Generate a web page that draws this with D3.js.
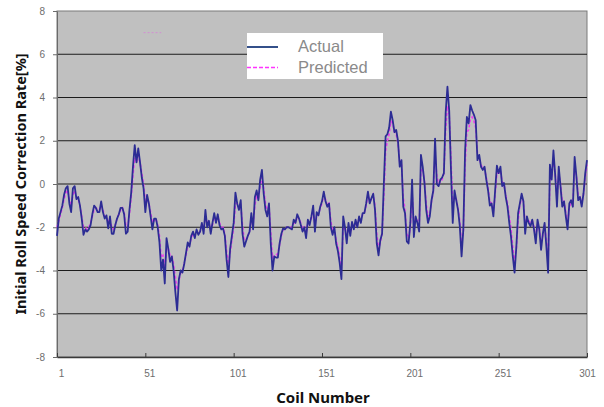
<!DOCTYPE html>
<html>
<head>
<meta charset="utf-8">
<script src="https://cdn.jsdelivr.net/npm/d3@7"></script>
<style>
  body { margin: 0; background: #fff; }
  svg { display: block; }
  .tick text { font-family: "Liberation Sans", Arial, sans-serif; font-size: 10px; fill: #6e6e6e; }
</style>
</head>
<body>
<svg id="chart"></svg>
<script>
// Values (coil 1..301)
const actual = [
  -2.4, -1.6, -1.3, -1.0, -0.5, -0.2, -0.1, -0.9, -1.3, -0.2,
  -0.1, -0.7, -0.6, -1.0, -1.6, -2.35, -2.1, -2.2, -2.1, -1.9,
  -1.4, -1.0, -1.1, -1.3, -1.3, -0.8, -1.3, -1.6, -1.45, -2.05,
  -1.5, -2.3, -2.3, -1.9, -1.6, -1.4, -1.1, -1.1, -1.4, -2.3,
  -2.2, -1.2, -0.4, 0.8, 1.8, 1.0, 1.65, 1.0, 0.3, -0.2,
  -1.3, -0.5, -0.9, -1.5, -2.1, -1.6, -1.6, -2.0, -2.7, -4.0,
  -3.5, -4.6, -2.5, -3.0, -3.6, -3.35, -4.0, -5.0, -5.85, -4.4,
  -4.0, -4.1, -3.7, -3.2, -2.7, -2.9, -2.4, -2.2, -2.5, -2.1,
  -2.35, -2.2, -1.8, -2.3, -1.2, -2.0, -1.7, -2.3, -1.8, -1.35,
  -1.8, -1.4, -1.9, -2.1, -2.05, -2.4, -3.5, -4.3, -3.0, -2.4,
  -1.8, -0.4, -0.9, -1.2, -0.75, -2.3, -2.9, -2.65, -2.4, -2.2,
  -1.35, -2.1, -0.6, -0.3, -0.75, 0.2, 0.65, -0.45, -1.2, -1.5,
  -0.9, -2.75, -4.0, -3.35, -3.4, -3.4, -2.75, -2.3, -2.05, -2.1,
  -2.0, -2.0, -2.05, -2.1, -1.65, -1.8, -1.4, -1.6, -1.9, -2.2,
  -2.0, -2.5, -1.65, -1.9, -1.5, -1.0, -2.2, -1.3, -1.45, -1.05,
  -0.8, -0.35, -0.8, -1.05, -0.9, -2.0, -2.35, -2.0, -2.75, -3.1,
  -3.65, -4.4, -1.5, -2.0, -2.75, -1.8, -2.4, -1.75, -2.1, -1.65,
  -2.0, -1.5, -1.8, -1.35, -1.35, -0.9, -0.35, -0.9, -0.65, -0.45,
  -1.2, -2.75, -3.3, -2.6, -2.3, 0.0, 2.2, 2.3, 2.6, 3.35,
  2.95, 2.4, 2.5, 2.0, 0.8, 1.1, -1.05, -1.35, -2.65, -2.75,
  -1.8, 0.2, -2.45, -1.5, -1.8, -2.2, 1.35, 0.8, 0.05, -1.2,
  -1.8, -1.5, -0.75, -0.3, 2.1, 0.0, -0.1, 0.2, 0.3, 0.5,
  3.3, 4.5, 3.4, 0.65, -1.8, -0.3, -0.75, -1.2, -1.95, -3.35,
  -2.1, 1.55, 3.1, 2.8, 3.65, 3.4, 3.2, 2.95, 1.1, 1.35,
  0.8, 0.65, 0.8, 0.2, -0.3, -1.0, -0.9, -1.5, -0.3, 0.85,
  0.5, 0.8, -0.1, 0.05, -0.6, -1.05, -1.8, -2.45, -3.35, -4.1,
  -2.9, -1.35, -0.9, -0.45, -0.8, -2.3, -1.5, -1.8, -1.95, -1.65,
  -2.1, -2.75, -1.65, -2.1, -3.05, -2.3, -1.8, -2.9, -4.1, 0.9,
  0.2, 1.55, 0.4, -1.05, 0.8, -0.1, -1.05, -0.8, -1.5, -2.1,
  -0.9, -0.75, -1.05, 1.25, 0.35, -0.75, -0.6, -1.05, -0.45, 0.5,
  1.1
];

const predicted = [
  -2.0, -1.7, -1.4, -1.1, -0.7, -0.4, -0.3, -0.7, -1.0, -0.5,
  -0.3, -0.6, -0.7, -1.0, -1.5, -2.0, -2.0, -2.1, -2.0, -1.8,
  -1.5, -1.2, -1.1, -1.2, -1.2, -1.0, -1.2, -1.5, -1.5, -1.8,
  -1.6, -2.0, -2.1, -1.9, -1.6, -1.4, -1.2, -1.1, -1.3, -1.9,
  -2.0, -1.4, -0.6, 0.4, 1.2, 1.0, 1.3, 1.0, 0.5, 0.0,
  -0.8, -0.6, -0.9, -1.3, -1.8, -1.7, -1.6, -1.9, -2.4, -3.4,
  -3.3, -3.9, -3.0, -3.0, -3.3, -3.3, -3.7, -4.3, -4.9, -4.5,
  -4.1, -4.0, -3.7, -3.3, -2.9, -2.8, -2.5, -2.3, -2.4, -2.2,
  -2.3, -2.2, -1.9, -2.1, -1.5, -1.8, -1.8, -2.1, -1.9, -1.5,
  -1.7, -1.5, -1.8, -2.0, -2.0, -2.3, -3.1, -3.7, -3.2, -2.6,
  -2.0, -0.9, -0.9, -1.1, -0.9, -1.9, -2.6, -2.6, -2.4, -2.2,
  -1.6, -1.9, -1.0, -0.5, -0.7, -0.1, 0.3, -0.2, -0.9, -1.3,
  -1.0, -2.2, -3.4, -3.3, -3.3, -3.2, -2.8, -2.4, -2.1, -2.1,
  -2.0, -2.0, -2.0, -2.0, -1.8, -1.8, -1.5, -1.6, -1.8, -2.1,
  -2.0, -2.3, -1.8, -1.8, -1.6, -1.2, -1.9, -1.5, -1.4, -1.1,
  -0.9, -0.5, -0.7, -1.0, -0.9, -1.7, -2.2, -2.1, -2.6, -2.9,
  -3.4, -3.9, -2.1, -2.0, -2.5, -2.0, -2.3, -1.9, -2.0, -1.8,
  -1.9, -1.6, -1.7, -1.4, -1.3, -1.0, -0.5, -0.8, -0.7, -0.5,
  -1.0, -2.3, -3.0, -2.7, -2.3, -0.6, 1.5, 2.0, 2.3, 2.9,
  2.8, 2.4, 2.3, 1.9, 1.0, 0.9, -0.6, -1.2, -2.3, -2.5,
  -2.0, -0.4, -1.9, -1.6, -1.7, -2.0, 0.6, 0.7, 0.1, -0.9,
  -1.5, -1.4, -0.8, -0.4, 1.4, 0.4, 0.0, 0.1, 0.2, 0.5,
  2.5, 3.6, 3.2, 1.2, -1.0, -0.6, -0.7, -1.1, -1.7, -2.8,
  -2.2, 0.8, 2.4, 2.5, 3.0, 3.1, 2.9, 2.6, 1.4, 1.2,
  0.9, 0.7, 0.7, 0.3, -0.2, -0.8, -0.9, -1.3, -0.5, 0.5,
  0.5, 0.6, 0.1, 0.0, -0.5, -0.9, -1.5, -2.1, -2.9, -3.6,
  -3.0, -1.7, -1.0, -0.6, -0.8, -1.9, -1.6, -1.7, -1.8, -1.7,
  -2.0, -2.5, -1.9, -2.0, -2.7, -2.4, -1.9, -2.6, -3.6, 0.2,
  0.3, 1.2, 0.5, -0.7, 0.5, 0.0, -0.8, -0.8, -1.3, -1.8,
  -1.1, -0.8, -0.9, 0.8, 0.4, -0.5, -0.6, -0.9, -0.5, 0.3,
  0.9
];

const xTicks = [1, 51, 101, 151, 201, 251, 301];
const yTicks = [-8, -6, -4, -2, 0, 2, 4, 6, 8];
const seriesNames = ["Actual", "Predicted"];

const margin = { top: 11, right: 17, bottom: 50, left: 57 };
const width = 604 - margin.left - margin.right;
const height = 407 - margin.top - margin.bottom;

const root = d3.select("#chart")
    .attr("width", 604)
    .attr("height", 407);

const svg = root.append("g")
    .attr("transform", `translate(${margin.left},${margin.top})`);

const xScale = d3.scaleLinear().domain([1, 301]).range([0, width]);
const yScale = d3.scaleLinear().domain([-8, 8]).range([height, 0]);

// plot area
svg.append("rect")
    .attr("width", width)
    .attr("height", height)
    .attr("fill", "#c0c0c0")
    .attr("stroke", "#7a7a7a")
    .attr("stroke-width", 1);

// horizontal gridlines
svg.selectAll(".grid")
    .data(yTicks.filter(d => d > -8 && d < 8))
    .enter().append("line")
    .attr("class", "grid")
    .attr("x1", 0)
    .attr("x2", width)
    .attr("y1", d => yScale(d))
    .attr("y2", d => yScale(d))
    .attr("stroke", "#1c1c1c")
    .attr("stroke-width", 1);

// axes
const yAxis = d3.axisLeft(yScale)
    .tickValues(yTicks)
    .tickFormat(d => String(d))
    .tickSizeInner(4)
    .tickSizeOuter(0)
    .tickPadding(8);

svg.append("g")
    .attr("id", "y-axis")
    .call(yAxis)
    .call(g => g.select(".domain").attr("stroke", "#6a6a6a"))
    .call(g => g.selectAll(".tick line").attr("stroke", "#6a6a6a"));

const xAxis = d3.axisBottom(xScale)
    .tickValues(xTicks)
    .tickFormat(d => String(d))
    .tickSizeInner(-4)
    .tickSizeOuter(0)
    .tickPadding(13);

svg.append("g")
    .attr("id", "x-axis")
    .attr("transform", `translate(0,${height})`)
    .call(xAxis)
    .call(g => g.select(".domain").attr("stroke", "#3a3a3a").attr("stroke-width", 1.5))
    .call(g => g.selectAll(".tick line").attr("stroke", "#3a3a3a"))
    .call(g => g.selectAll(".tick text").attr("dx", d => d === 301 ? 0 : 4));

// series
const line = d3.line()
    .x((d, i) => xScale(i + 1))
    .y(d => yScale(d));

svg.append("path")
    .datum(predicted)
    .attr("fill", "none")
    .attr("stroke", "#f040f0")
    .attr("stroke-width", 1.6)
    .attr("stroke-dasharray", "3,2")
    .attr("d", line);

svg.append("path")
    .datum(actual)
    .attr("fill", "none")
    .attr("stroke", "#2c2c94")
    .attr("stroke-width", 1.8)
    .attr("stroke-linejoin", "round")
    .attr("d", line);

// stray dashed mark left in the original picture
svg.append("line")
    .attr("x1", xScale(50))
    .attr("x2", xScale(60))
    .attr("y1", yScale(7))
    .attr("y2", yScale(7))
    .attr("stroke", "#e070e0")
    .attr("stroke-width", 1)
    .attr("stroke-dasharray", "2,2")
    .attr("opacity", 0.6);

// legend
const legend = root.append("g").attr("transform", "translate(247,33)");
legend.append("rect")
    .attr("width", 136)
    .attr("height", 46)
    .attr("fill", "#fff");

legend.selectAll(".key")
    .data(seriesNames)
    .enter().append("line")
    .attr("x1", 0)
    .attr("x2", 31)
    .attr("y1", (d, i) => 14 + i * 20.5)
    .attr("y2", (d, i) => 14 + i * 20.5)
    .attr("stroke", (d, i) => i === 0 ? "#34508a" : "#ff33ff")
    .attr("stroke-width", (d, i) => i === 0 ? 2 : 1.6)
    .attr("stroke-dasharray", (d, i) => i === 0 ? null : "4,2");

legend.selectAll(".label")
    .data(seriesNames)
    .enter().append("text")
    .attr("x", 51)
    .attr("y", (d, i) => 19 + i * 21)
    .attr("font-family", "Liberation Sans, Arial, sans-serif")
    .attr("font-size", 16.5)
    .attr("fill", "#8a8a8a")
    .text(d => d);

// axis titles
root.append("text")
    .attr("x", margin.left + xScale(151) + 1)
    .attr("y", 403)
    .attr("text-anchor", "middle")
    .attr("font-family", "Noto Sans, sans-serif")
    .attr("font-weight", "bold")
    .attr("font-size", 15)
    .attr("fill", "#111")
    .text("Coil Number");

root.append("text")
    .attr("transform", `translate(26,${margin.top + yScale(0)}) rotate(-90)`)
    .attr("text-anchor", "middle")
    .attr("font-family", "Noto Sans, sans-serif")
    .attr("font-weight", "bold")
    .attr("font-size", 14.5)
    .attr("fill", "#111")
    .text("Initial Roll Speed Correction Rate[%]");
</script>
</body>
</html>
